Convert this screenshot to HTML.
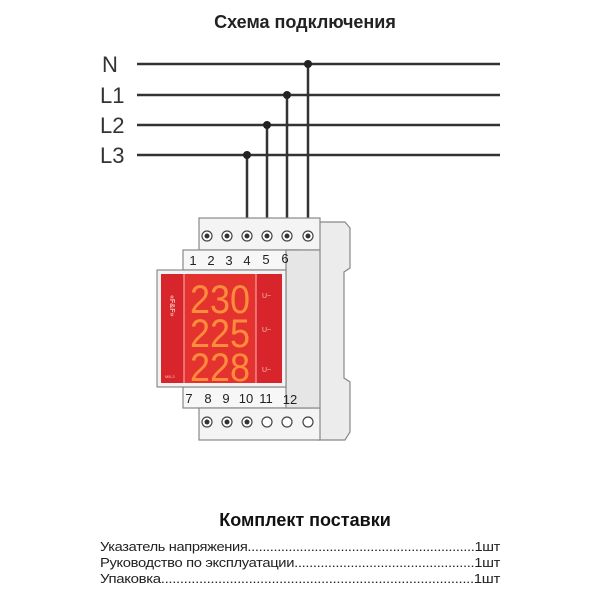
<!DOCTYPE html>
<html><head><meta charset="utf-8"><style>
html,body{margin:0;padding:0;background:#fff}
svg{display:block}
text{font-family:"Liberation Sans",sans-serif}
</style></head><body>
<svg width="600" height="600" viewBox="0 0 600 600" xmlns="http://www.w3.org/2000/svg">
<text x="305" y="28" font-size="18" font-weight="bold" text-anchor="middle" fill="#222">Схема подключения</text>
<g font-size="22" fill="#333">
<text x="102" y="72">N</text><text x="100" y="103">L1</text><text x="100" y="133">L2</text><text x="100" y="163">L3</text>
</g>
<g stroke="#333" stroke-width="2.5">
<line x1="137" y1="64" x2="500" y2="64"/><line x1="137" y1="95" x2="500" y2="95"/>
<line x1="137" y1="125" x2="500" y2="125"/><line x1="137" y1="155" x2="500" y2="155"/>
<line x1="308" y1="64" x2="308" y2="232"/><line x1="287" y1="95" x2="287" y2="232"/>
<line x1="267" y1="125" x2="267" y2="232"/><line x1="247" y1="155" x2="247" y2="232"/>
</g>
<g fill="#222"><circle cx="308" cy="64" r="4"/><circle cx="287" cy="95" r="4"/><circle cx="267" cy="125" r="4"/><circle cx="247" cy="155" r="4"/></g>
<g stroke="#888" stroke-width="1.2" fill="#ececec">
<path d="M318 222 L345 222 L350 228 L350 268 L344 272 L344 378 L350 382 L350 432 L345 440 L318 440 Z"/>
<rect x="199" y="218" width="121" height="32" fill="#f4f4f4"/>
<rect x="183" y="250" width="115" height="20" fill="#f7f7f7"/>
<rect x="183" y="387" width="115" height="21" fill="#f7f7f7"/>
<rect x="199" y="408" width="121" height="32" fill="#f4f4f4"/>
<rect x="286" y="250" width="34" height="158" fill="#e6e6e6"/>
</g>
<g stroke="#444" stroke-width="1.2" fill="#fff">
<circle cx="207" cy="236" r="5"/><circle cx="227" cy="236" r="5"/><circle cx="247" cy="236" r="5"/><circle cx="267" cy="236" r="5"/><circle cx="287" cy="236" r="5"/><circle cx="308" cy="236" r="5"/>
<circle cx="207" cy="422" r="5"/><circle cx="227" cy="422" r="5"/><circle cx="247" cy="422" r="5"/><circle cx="267" cy="422" r="5"/><circle cx="287" cy="422" r="5"/><circle cx="308" cy="422" r="5"/>
</g>
<g fill="#333"><circle cx="207" cy="236" r="2.5"/><circle cx="227" cy="236" r="2.5"/><circle cx="247" cy="236" r="2.5"/><circle cx="267" cy="236" r="2.5"/><circle cx="287" cy="236" r="2.5"/><circle cx="308" cy="236" r="2.5"/>
<circle cx="207" cy="422" r="2.5"/><circle cx="227" cy="422" r="2.5"/><circle cx="247" cy="422" r="2.5"/></g>
<g font-size="13" fill="#222" text-anchor="middle">
<text x="193" y="265">1</text><text x="211" y="265">2</text><text x="229" y="265">3</text><text x="247" y="265">4</text><text x="266" y="264">5</text><text x="285" y="263">6</text>
<text x="189" y="403">7</text><text x="208" y="403">8</text><text x="226" y="403">9</text><text x="246" y="403">10</text><text x="266" y="403">11</text><text x="290" y="404">12</text>
</g>
<rect x="157" y="270" width="129" height="117" fill="#f2f2f2" stroke="#777"/>
<rect x="161" y="274" width="121" height="109" fill="#d8252c"/>
<rect x="184" y="274" width="72" height="109" fill="#e4322e"/>
<line x1="184" y1="274" x2="184" y2="383" stroke="#f3a0a0" stroke-width="1.2"/>
<line x1="256" y1="274" x2="256" y2="383" stroke="#f3a0a0" stroke-width="1.2"/>
<g font-size="40" fill="#ff8c3c">
<text x="190" y="313" textLength="60" lengthAdjust="spacingAndGlyphs">230</text>
<text x="190" y="347" textLength="60" lengthAdjust="spacingAndGlyphs">225</text>
<text x="190" y="381" textLength="60" lengthAdjust="spacingAndGlyphs">228</text>
</g>
<g font-size="7" fill="#f8c0b0"><text x="262" y="298">U~</text><text x="262" y="332">U~</text><text x="262" y="372">U~</text></g>
<text x="170" y="295" font-size="7" fill="#f8c0b0" font-weight="bold" transform="rotate(90 170 295)">«F&amp;F»</text>
<text x="165" y="378" font-size="4" fill="#f8c0b0">МВ-3</text>
<text x="305" y="526" font-size="18" font-weight="bold" text-anchor="middle" fill="#111">Комплект поставки</text>
<g font-size="13" fill="#222" letter-spacing="-0.3">
<text x="100" y="551" textLength="400" lengthAdjust="spacingAndGlyphs">Указатель напряжения.............................................................1шт</text>
<text x="100" y="567" textLength="400" lengthAdjust="spacingAndGlyphs">Руководство по эксплуатации................................................1шт</text>
<text x="100" y="583" textLength="400" lengthAdjust="spacingAndGlyphs">Упаковка..................................................................................1шт</text>
</g>
</svg>
</body></html>
